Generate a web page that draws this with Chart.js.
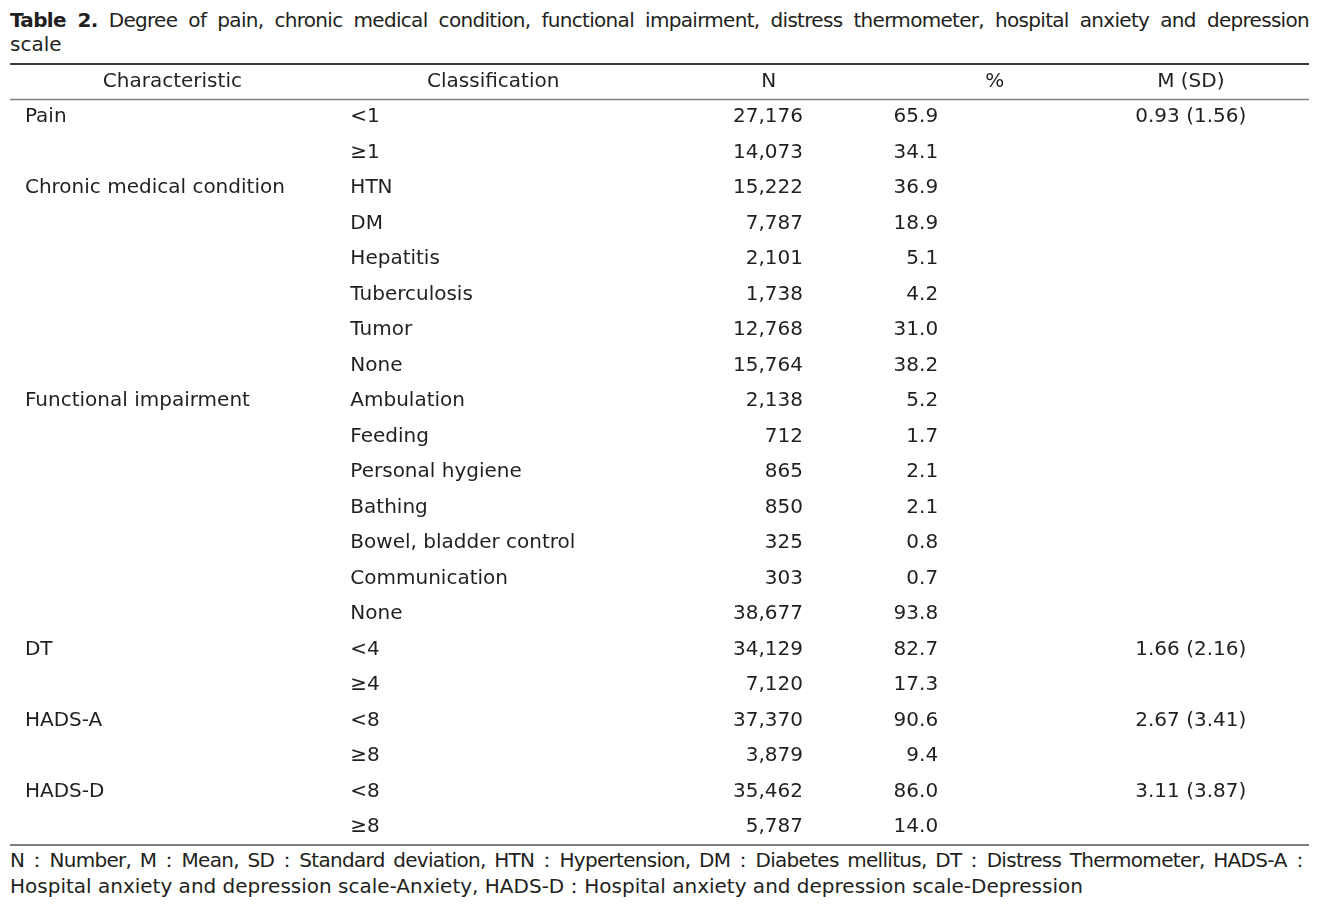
<!DOCTYPE html>
<html lang="en">

<head>
  <meta charset="UTF-8">
  <title>Table 2</title>
  <script src="https://cdn.jsdelivr.net/npm/chart.js"></script>
  <style>
    body {
      margin: 0;
      background: #fff;
      font-family: "DejaVu Sans", sans-serif;
      color: #231f20;
    }

    .titulo {
      position: absolute;
      left: 10px;
      top: 8px;
      width: 1299px;
      font-size: 20px;
      line-height: 24px;
    }

    .rodape {
      position: absolute;
      left: 10px;
      top: 847px;
      width: 1299px;
      font-size: 20px;
      line-height: 26px;
    }

    .just {
      text-align: justify;
      text-align-last: justify;
      letter-spacing: -0.7px;
    }

    .caixa {
      position: absolute;
      left: 10px;
      top: 62px;
      width: 1299px;
      height: 785px;
    }
  </style>
</head>

<body>
  <div class="titulo">
    <div class="just"><b>Table 2.</b> Degree of pain, chronic medical condition, functional impairment, distress thermometer, hospital anxiety and depression</div>
    <div>scale</div>
  </div>

  <div class="caixa">
    <canvas id="tabela"></canvas>
  </div>

  <div class="rodape">
    <div class="just">N：Number, M：Mean, SD：Standard deviation, HTN：Hypertension, DM：Diabetes mellitus, DT：Distress Thermometer, HADS&#8209;A：</div>
    <div>Hospital anxiety and depression scale-Anxiety, HADS-D：Hospital anxiety and depression scale-Depression</div>
  </div>

  <script>
    // dados da tabela
    var cabecalhos = ['Characteristic', 'Classification', 'N', '%', 'M (SD)']

    var caracteristicas = ['Pain', '', 'Chronic medical condition', '', '', '', '', '',
      'Functional impairment', '', '', '', '', '', '', 'DT', '', 'HADS-A', '', 'HADS-D', '']

    var classificacoes = ['<1', '≥1', 'HTN', 'DM', 'Hepatitis', 'Tuberculosis', 'Tumor', 'None',
      'Ambulation', 'Feeding', 'Personal hygiene', 'Bathing', 'Bowel, bladder control', 'Communication', 'None',
      '<4', '≥4', '<8', '≥8', '<8', '≥8']

    var valoresN = [27176, 14073, 15222, 7787, 2101, 1738, 12768, 15764,
      2138, 712, 865, 850, 325, 303, 38677, 34129, 7120, 37370, 3879, 35462, 5787]

    var porcentagens = [65.9, 34.1, 36.9, 18.9, 5.1, 4.2, 31.0, 38.2,
      5.2, 1.7, 2.1, 2.1, 0.8, 0.7, 93.8, 82.7, 17.3, 90.6, 9.4, 86.0, 14.0]

    var medias = [0.93, null, null, null, null, null, null, null,
      null, null, null, null, null, null, null, 1.66, null, 2.67, null, 3.11, null]

    var desvios = [1.56, null, null, null, null, null, null, null,
      null, null, null, null, null, null, null, 2.16, null, 3.41, null, 3.87, null]

    // posicoes das colunas (em % da largura da tabela)
    var posCabecalho = [12.5, 37.2, 58.4, 75.8, 90.9]
    var posCaract = 1.15
    var posClassif = 26.2
    var posN = 61.05
    var posPct = 71.45
    var posMsd = 90.9

    const pluginTabela = {
      id: 'pluginTabela',
      afterDraw(chart) {
        const ctx = chart.ctx
        const area = chart.chartArea
        const x = chart.scales.x
        const y = chart.scales.y

        ctx.save()

        // linhas horizontais
        function regua(valor, largura, cor) {
          const py = y.getPixelForValue(valor)
          ctx.beginPath()
          ctx.lineWidth = largura
          ctx.strokeStyle = cor
          ctx.moveTo(area.left, py)
          ctx.lineTo(area.right, py)
          ctx.stroke()
        }
        regua(-0.5, 2, '#3a3a3a')
        regua(0.5, 1.5, '#808080')
        regua(classificacoes.length + 0.5, 1.5, '#555')

        ctx.font = '20px "DejaVu Sans"'
        ctx.fillStyle = '#231f20'
        ctx.textBaseline = 'middle'

        // cabecalho
        ctx.textAlign = 'center'
        for (let i = 0; i < cabecalhos.length; i++) {
          ctx.fillText(cabecalhos[i], x.getPixelForValue(posCabecalho[i]), y.getPixelForValue(0))
        }

        // linhas de dados
        for (let i = 0; i < classificacoes.length; i++) {
          const py = y.getPixelForValue(i + 1)

          ctx.textAlign = 'left'
          if (caracteristicas[i]) ctx.fillText(caracteristicas[i], x.getPixelForValue(posCaract), py)
          ctx.fillText(classificacoes[i], x.getPixelForValue(posClassif), py)

          ctx.textAlign = 'right'
          ctx.fillText(valoresN[i].toLocaleString('en-US'), x.getPixelForValue(posN), py)
          ctx.fillText(porcentagens[i].toFixed(1), x.getPixelForValue(posPct), py)

          if (medias[i] != null) {
            ctx.textAlign = 'center'
            ctx.fillText(medias[i].toFixed(2) + ' (' + desvios[i].toFixed(2) + ')', x.getPixelForValue(posMsd), py)
          }
        }

        ctx.restore()
      }
    }

    const grafico = new Chart(document.getElementById('tabela'), {
      type: 'scatter',
      data: { datasets: [] },
      options: {
        responsive: true,
        maintainAspectRatio: false,
        animation: false,
        layout: { padding: { top: 2, bottom: 2, left: 0, right: 0 } },
        plugins: {
          legend: { display: false },
          tooltip: { enabled: false }
        },
        scales: {
          x: { type: 'linear', min: 0, max: 100, display: false },
          y: { type: 'linear', min: -0.5, max: classificacoes.length + 0.5, reverse: true, display: false }
        }
      },
      plugins: [pluginTabela]
    })
  </script>
</body>

</html>
